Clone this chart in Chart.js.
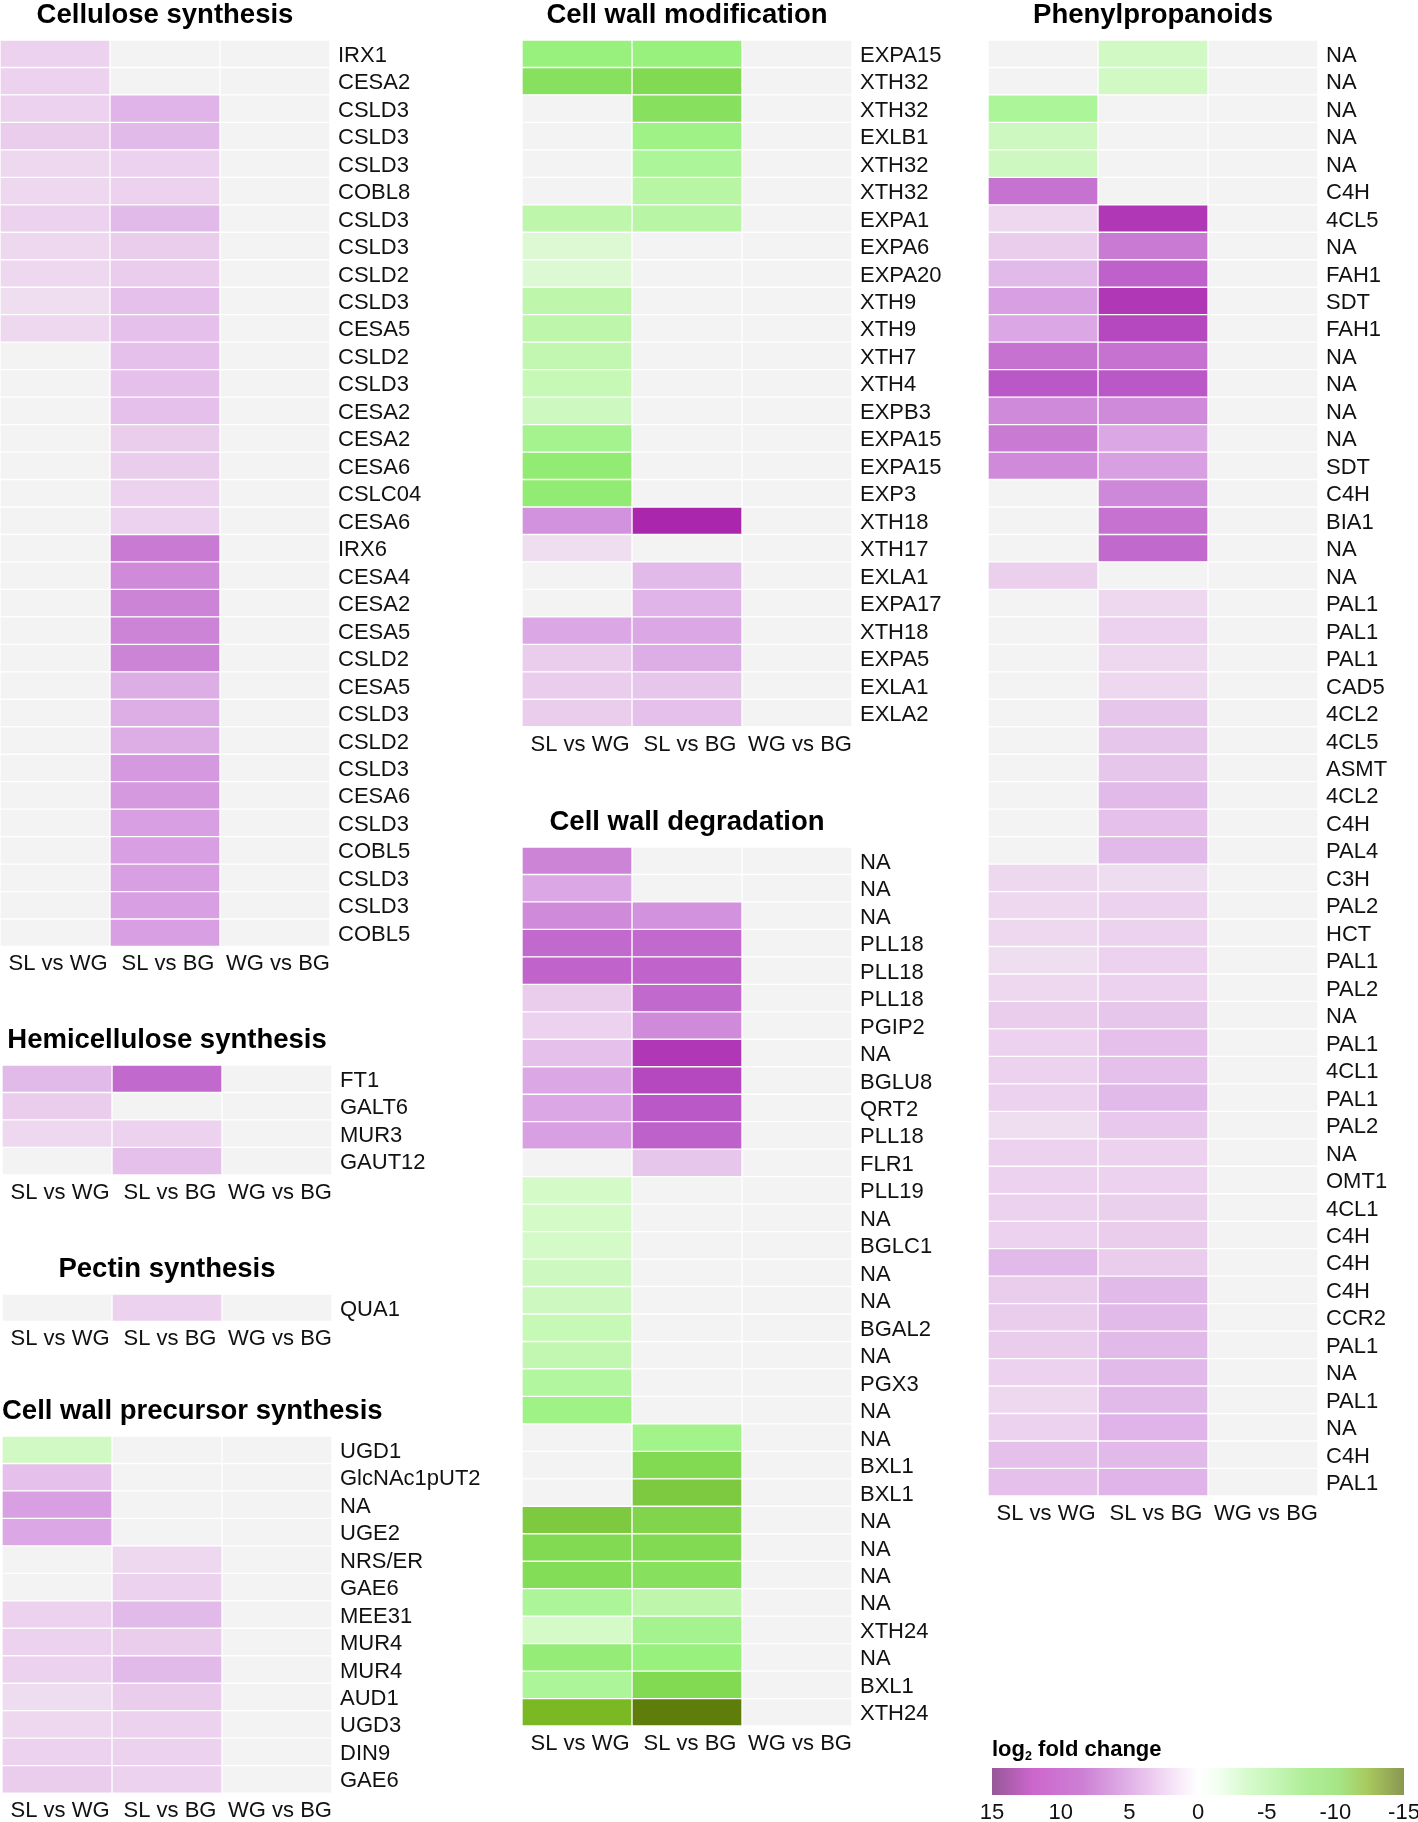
<!DOCTYPE html>
<html>
<head>
<meta charset="utf-8">
<script src="https://cdn.jsdelivr.net/npm/chart.js@4.4.1/dist/chart.umd.min.js"></script>
<style>
html,body{margin:0;padding:0;background:#fff;}
body{width:1418px;height:1822px;position:relative;overflow:hidden;}
canvas{position:absolute;display:block;}
</style>
</head>
<body>
<script>
// ---------------- DATA ----------------
const comparisons = ["SL vs WG", "SL vs BG", "WG vs BG"];
const legendTicks = [15, 10, 5, 0, -5, -10, -15];

// Cellulose synthesis
const celluloseGenes = ["IRX1","CESA2","CSLD3","CSLD3","CSLD3","COBL8","CSLD3","CSLD3","CSLD2","CSLD3","CESA5","CSLD2","CSLD3","CESA2","CESA2","CESA6","CSLC04","CESA6","IRX6","CESA4","CESA2","CESA5","CSLD2","CESA5","CSLD3","CSLD2","CSLD3","CESA6","CSLD3","COBL5","CSLD3","CSLD3","COBL5"];
const celluloseSLvsWG = [3,3,3,3.5,2.5,2.5,3,2.5,2.5,2,2.5,null,null,null,null,null,null,null,null,null,null,null,null,null,null,null,null,null,null,null,null,null,null];
const celluloseSLvsBG = [null,null,5.5,5,3,3,5,3.5,3.5,4.5,4.5,4.5,4.5,4.5,3.5,3.5,3,3,9.5,8.5,9,9,9,6,6,6,7.5,7.5,7,7,7,7,7];
const celluloseWGvsBG = [null,null,null,null,null,null,null,null,null,null,null,null,null,null,null,null,null,null,null,null,null,null,null,null,null,null,null,null,null,null,null,null,null];

// Hemicellulose synthesis
const hemiGenes = ["FT1","GALT6","MUR3","GAUT12"];
const hemiSLvsWG = [5,3.5,2.5,null];
const hemiSLvsBG = [10.5,null,3,4.5];
const hemiWGvsBG = [null,null,null,null];

// Pectin synthesis
const pectinGenes = ["QUA1"];
const pectinSLvsWG = [null];
const pectinSLvsBG = [3];
const pectinWGvsBG = [null];

// Cell wall precursor synthesis
const precursorGenes = ["UGD1","GlcNAc1pUT2","NA","UGE2","NRS/ER","GAE6","MEE31","MUR4","MUR4","AUD1","UGD3","DIN9","GAE6"];
const precursorSLvsWG = [-3.5,4.5,7,6.5,null,null,3,3,3,2.2,2.5,3,3.5];
const precursorSLvsBG = [null,null,null,null,2.5,3,5,3.5,5,3.5,3,3,3];
const precursorWGvsBG = [null,null,null,null,null,null,null,null,null,null,null,null,null];

// Cell wall modification
const modGenes = ["EXPA15","XTH32","XTH32","EXLB1","XTH32","XTH32","EXPA1","EXPA6","EXPA20","XTH9","XTH9","XTH7","XTH4","EXPB3","EXPA15","EXPA15","EXP3","XTH18","XTH17","EXLA1","EXPA17","XTH18","EXPA5","EXLA1","EXLA2"];
const modSLvsWG = [-8,-9.5,null,null,null,null,-5,-2.5,-2.5,-5,-5,-4.8,-4.5,-4,-7,-8.5,-8.5,8,2,null,null,6.5,3.5,3.5,3.5];
const modSLvsBG = [-8,-10,-9.5,-7.5,-6.5,-5.5,-5.5,null,null,null,null,null,null,null,null,null,null,14.5,null,5,5.5,6.5,6,4,4.5];
const modWGvsBG = [null,null,null,null,null,null,null,null,null,null,null,null,null,null,null,null,null,null,null,null,null,null,null,null,null];

// Cell wall degradation
const degGenes = ["NA","NA","NA","PLL18","PLL18","PLL18","PGIP2","NA","BGLU8","QRT2","PLL18","FLR1","PLL19","NA","BGLC1","NA","NA","BGAL2","NA","PGX3","NA","NA","BXL1","BXL1","NA","NA","NA","NA","XTH24","NA","BXL1","XTH24"];
const degSLvsWG = [9,6.5,8.5,10.5,10.8,3.5,3,4.5,6.5,6.5,7,null,-3,-3,-3,-4,-4,-4.5,-4.8,-6,-7.5,null,null,null,-11,-10,-9.8,-6.5,-3,-8.3,-6.5,-13];
const degSLvsBG = [null,null,8,10.5,10.8,10.5,8.5,13.5,12.5,11.5,11,4,null,null,null,null,null,null,null,null,null,-7.2,-10,-11,-10.3,-10,-9.5,-5,-7,-8,-10,-15];
const degWGvsBG = [null,null,null,null,null,null,null,null,null,null,null,null,null,null,null,null,null,null,null,null,null,null,null,null,null,null,null,null,null,null,null,null];

// Phenylpropanoids
const phenGenes = ["NA","NA","NA","NA","NA","C4H","4CL5","NA","FAH1","SDT","FAH1","NA","NA","NA","NA","SDT","C4H","BIA1","NA","NA","PAL1","PAL1","PAL1","CAD5","4CL2","4CL5","ASMT","4CL2","C4H","PAL4","C3H","PAL2","HCT","PAL1","PAL2","NA","PAL1","4CL1","PAL1","PAL2","NA","OMT1","4CL1","C4H","C4H","C4H","CCR2","PAL1","NA","PAL1","NA","C4H","PAL1"];
const phenSLvsWG = [null,null,-6.5,-4,-4,10,2.5,3.5,5,7,6.5,10,11.5,8.5,9.5,8.5,null,null,null,3.2,null,null,null,null,null,null,null,null,null,null,2.5,2.5,2.5,2,2.5,3.5,3,3,3,2,3,3,3,3,5,3.5,3.5,3.5,3,2.5,3,4.5,4.5];
const phenSLvsBG = [-3.5,-3.5,null,null,null,null,13.5,9.5,11,13.5,12.5,10,11.5,8.5,6.5,7,8.7,10,10.5,null,2.5,3,2.5,2.5,4,4,4,5,4.5,5,2.2,3,3,3,3,4,4.5,4.5,5,3.8,3,3,3.2,3.5,3.5,5,5,5,5,5,5.5,5,5.5];
const phenWGvsBG = [null,null,null,null,null,null,null,null,null,null,null,null,null,null,null,null,null,null,null,null,null,null,null,null,null,null,null,null,null,null,null,null,null,null,null,null,null,null,null,null,null,null,null,null,null,null,null,null,null,null,null,null,null];

// ---------------- STYLE ----------------
const FAMILY = '"Liberation Sans", Arial, Helvetica, sans-serif';
const GRAY = '#f3f3f3';
const TEXT = '#111';
const ROW_H = 27.47;
const GRID_W = 330;
const PAD_TOP = 40;
const LABEL_W = 170;
const AXIS_H = 40;
const LABEL_SIZE = 22;

const PURPLE_STOPS = [[0,[246,238,247]],[2,[238,222,240]],[3,[236,210,238]],[5,[226,186,234]],[7,[216,160,226]],[9,[204,132,215]],[10.5,[194,105,206]],[12,[184,80,196]],[13.5,[176,55,182]],[15,[165,30,168]]];
const GREEN_STOPS = [[0,[236,252,233]],[2.5,[220,249,212]],[3,[212,250,200]],[4,[205,248,192]],[5,[190,247,172]],[6.5,[172,245,152]],[8,[152,240,125]],[9.5,[135,225,95]],[10,[130,218,82]],[11,[125,202,65]],[13,[122,184,36]],[15,[95,125,10]]];

function colorFor(v) {
  if (v === null || v === undefined) return GRAY;
  const stops = v >= 0 ? PURPLE_STOPS : GREEN_STOPS;
  const a = Math.min(Math.abs(v), 15);
  for (let i = 1; i < stops.length; i++) {
    if (a <= stops[i][0]) {
      const [v0, c0] = stops[i - 1], [v1, c1] = stops[i];
      const t = (a - v0) / (v1 - v0);
      return 'rgb(' + c0.map((c, k) => Math.round(c + (c1[k] - c) * t)).join(',') + ')';
    }
  }
  const c = stops[stops.length - 1][1];
  return 'rgb(' + c.join(',') + ')';
}

const titlePlugin = {
  id: 'panelTitle',
  afterDraw(chart, args, opts) {
    if (!opts || !opts.text) return;
    const { ctx, chartArea } = chart;
    ctx.save();
    ctx.font = 'bold 27.5px ' + FAMILY;
    ctx.fillStyle = '#000';
    ctx.textBaseline = 'middle';
    ctx.textAlign = 'left';
    const w = ctx.measureText(opts.text).width;
    let x = (chartArea.left + chartArea.right) / 2 - w / 2;
    if (x < 0) x = 0;
    ctx.fillText(opts.text, x, chartArea.top - 25);
    ctx.restore();
  }
};

function makeHeatmap(title, genes, series, left, top) {
  const canvas = document.createElement('canvas');
  document.body.appendChild(canvas);
  const gridH = genes.length * ROW_H;
  const W = GRID_W + LABEL_W;
  const H = Math.ceil(PAD_TOP + gridH + AXIS_H);
  canvas.width = W; canvas.height = H;
  canvas.style.width = W + 'px'; canvas.style.height = H + 'px';
  canvas.style.left = left + 'px';
  canvas.style.top = (top - PAD_TOP) + 'px';
  new Chart(canvas, {
    type: 'bar',
    data: {
      labels: genes,
      datasets: series.map((vals, c) => ({
        label: comparisons[c],
        data: vals.map(() => [c, c + 1]),
        backgroundColor: vals.map(colorFor),
        borderColor: '#ffffff',
        borderWidth: 1,
        borderSkipped: false,
        barPercentage: 1,
        categoryPercentage: 1,
        grouped: false
      }))
    },
    options: {
      indexAxis: 'y',
      responsive: false,
      animation: false,
      devicePixelRatio: 1,
      layout: { padding: { top: PAD_TOP, left: 0, right: 0, bottom: 0 } },
      plugins: {
        legend: { display: false },
        tooltip: { enabled: false },
        panelTitle: { text: title }
      },
      scales: {
        x: {
          type: 'linear', min: 0, max: 3, position: 'bottom',
          grid: { display: false, drawTicks: false },
          border: { display: false },
          afterBuildTicks: s => { s.ticks = comparisons.map((_, i) => ({ value: i + 0.5 })); },
          afterFit: s => { s.height = H - PAD_TOP - gridH; s.paddingLeft = 0; s.paddingRight = 0; },
          ticks: {
            font: { family: FAMILY, size: LABEL_SIZE }, color: TEXT, padding: 4.5, labelOffset: 3,
            autoSkip: false, maxRotation: 0, minRotation: 0,
            callback: (v, i) => comparisons[i]
          }
        },
        y: {
          type: 'category', position: 'right',
          grid: { display: false, drawTicks: false },
          border: { display: false },
          afterFit: s => { s.width = LABEL_W; s.paddingTop = 0; s.paddingBottom = 0; },
          ticks: { font: { family: FAMILY, size: LABEL_SIZE }, color: TEXT, padding: 8, labelOffset: 2, autoSkip: false }
        }
      }
    },
    plugins: [titlePlugin]
  });
}

makeHeatmap('Cellulose synthesis', celluloseGenes, [celluloseSLvsWG, celluloseSLvsBG, celluloseWGvsBG], 0, 40);
makeHeatmap('Hemicellulose synthesis', hemiGenes, [hemiSLvsWG, hemiSLvsBG, hemiWGvsBG], 2, 1065);
makeHeatmap('Pectin synthesis', pectinGenes, [pectinSLvsWG, pectinSLvsBG, pectinWGvsBG], 2, 1294);
makeHeatmap('Cell wall precursor synthesis', precursorGenes, [precursorSLvsWG, precursorSLvsBG, precursorWGvsBG], 2, 1436);
makeHeatmap('Cell wall modification', modGenes, [modSLvsWG, modSLvsBG, modWGvsBG], 522, 40);
makeHeatmap('Cell wall degradation', degGenes, [degSLvsWG, degSLvsBG, degWGvsBG], 522, 847);
makeHeatmap('Phenylpropanoids', phenGenes, [phenSLvsWG, phenSLvsBG, phenWGvsBG], 988, 40);

// ---------------- LEGEND (colour bar) ----------------
const legendTitlePlugin = {
  id: 'legendTitle',
  afterDraw(chart) {
    const { ctx, chartArea } = chart;
    ctx.save();
    ctx.fillStyle = '#000';
    ctx.textBaseline = 'alphabetic';
    ctx.textAlign = 'left';
    let x = chartArea.left;
    const y = chartArea.top - 12;
    ctx.font = 'bold 22px ' + FAMILY;
    ctx.fillText('log', x, y);
    x += ctx.measureText('log').width;
    ctx.font = 'bold 12.5px ' + FAMILY;
    ctx.fillText('2', x, y + 4);
    x += ctx.measureText('2').width;
    ctx.font = 'bold 22px ' + FAMILY;
    ctx.fillText(' fold change', x, y);
    ctx.restore();
  }
};

(function () {
  const canvas = document.createElement('canvas');
  document.body.appendChild(canvas);
  const W = 443, H = 97;
  canvas.width = W; canvas.height = H;
  canvas.style.width = W + 'px'; canvas.style.height = H + 'px';
  canvas.style.left = '975px'; canvas.style.top = '1725px';
  const gradStops = [
    [0.00, 'rgb(150,88,152)'], [0.10, 'rgb(205,102,205)'], [0.22, 'rgb(204,128,212)'],
    [0.33, 'rgb(224,176,230)'], [0.41, 'rgb(240,214,243)'], [0.47, 'rgb(251,242,251)'],
    [0.50, 'rgb(255,255,255)'], [0.55, 'rgb(242,255,240)'], [0.62, 'rgb(215,250,205)'],
    [0.68, 'rgb(198,246,185)'], [0.76, 'rgb(176,238,152)'], [0.84, 'rgb(166,230,135)'],
    [0.91, 'rgb(168,202,95)'], [1.00, 'rgb(138,150,82)']
  ];
  new Chart(canvas, {
    type: 'bar',
    data: {
      labels: ['log2 fold change'],
      datasets: [{
        data: [[legendTicks[legendTicks.length - 1], legendTicks[0]]],
        backgroundColor: (ctx) => {
          const ca = ctx.chart.chartArea;
          if (!ca) return GRAY;
          const g = ctx.chart.ctx.createLinearGradient(ca.left, 0, ca.right, 0);
          gradStops.forEach(([p, c]) => g.addColorStop(p, c));
          return g;
        },
        borderWidth: 0,
        barPercentage: 1,
        categoryPercentage: 1
      }]
    },
    options: {
      indexAxis: 'y', responsive: false, animation: false, devicePixelRatio: 1,
      layout: { padding: { top: 43, left: 17, right: 14, bottom: 0 } },
      plugins: { legend: { display: false }, tooltip: { enabled: false } },
      scales: {
        x: {
          type: 'linear', min: -15, max: 15, reverse: true,
          grid: { display: false, drawTicks: false },
          border: { display: false },
          afterBuildTicks: s => { s.ticks = legendTicks.map(v => ({ value: v })); },
          afterFit: s => { s.height = 27; s.paddingLeft = 0; s.paddingRight = 0; },
          ticks: {
            font: { family: FAMILY, size: LABEL_SIZE }, color: TEXT, padding: 5,
            autoSkip: false, maxRotation: 0, minRotation: 0,
            callback: (v) => String(v)
          }
        },
        y: { display: false }
      }
    },
    plugins: [legendTitlePlugin]
  });
})();
</script>
</body>
</html>
